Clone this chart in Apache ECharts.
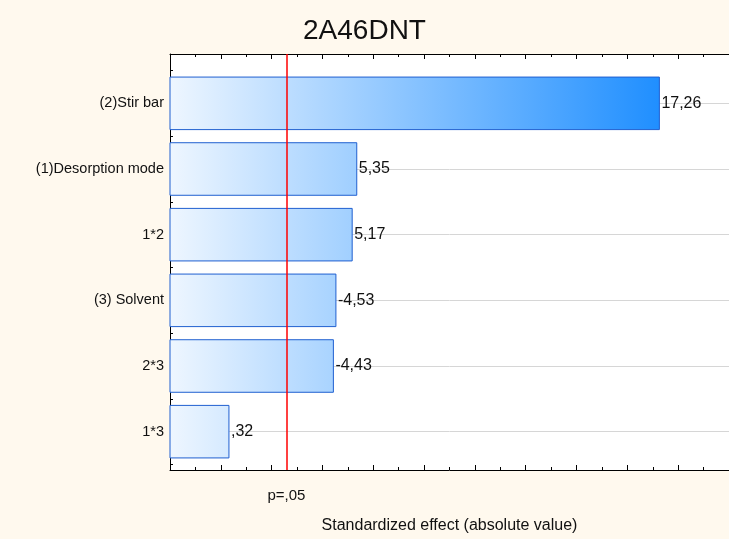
<!DOCTYPE html>
<html>
<head>
<meta charset="utf-8">
<script src="https://cdn.jsdelivr.net/npm/echarts@6/dist/echarts.min.js"></script>
<style>
  html, body { margin: 0; padding: 0; background: #FFF9EE; }
  #chart { width: 729px; height: 539px; }
</style>
</head>
<body>
<div id="chart"></div>
<script>
// effects, top to bottom
var categories = ['(2)Stir bar', '(1)Desorption mode', '1*2', '(3) Solvent', '2*3', '1*3'];
var effects = [17.26, 5.35, 5.17, -4.53, -4.43, 0.32];
var pCritical = 2.58;
var pLabel = 'p=,05';
var xMin = -2, xMax = 20;

var FONT = 'Liberation Sans, Arial, sans-serif';

// 5.35 -> "5,35", 0.32 -> ",32"
function fmt(v) {
  var s = v.toFixed(2).replace('.', ',');
  return s.replace(/^(-?)0,/, '$1,');
}

var myChart = echarts.init(document.getElementById('chart'));

// gradient runs over the whole plot width (global pixel coords)
var barGradient = new echarts.graphic.LinearGradient(170, 0, 663, 0, [
  {offset: 0, color: '#EEF6FF'},
  {offset: 1, color: '#1E8EFF'}
], true);

//bars start at the left edge of the axis, not at zero
function renderBar(params, api) {
  var val = api.value(0);
  var cat = api.value(1);
  var start = api.coord([xMin, cat]);
  var end = api.coord([val, cat]);
  var h = api.size([0, 1])[1] * 0.8;
  return {
    type: 'group',
    children: [
      {
        type: 'rect',
        shape: {x: start[0], y: start[1] - h / 2, width: end[0] - start[0], height: h},
        style: {fill: barGradient, stroke: '#1F5FD0', lineWidth: 1}
      },
      {
        type: 'text',
        x: end[0] + 2,
        y: end[1],
        style: {
          text: fmt(effects[params.dataIndex]),
          font: '16px ' + FONT,
          fill: '#111',
          align: 'left',
          verticalAlign: 'middle'
        }
      }
    ]
  };
}

var option = {
  animation: false,
  backgroundColor: '#FFF9EE',
  title: {
    text: '2A46DNT',
    left: 'center',
    top: 12,
    textStyle: {fontFamily: FONT, fontSize: 28, fontWeight: 'normal', color: '#111'}
  },
  grid: [
    {left: 170, right: -4, top: 54, bottom: 58, show: true, backgroundColor: '#fff', borderWidth: 0},
    {left: 170, right: -4, top: 70.5, bottom: 74.5}
  ],
  xAxis: [
    {
      gridIndex: 0, type: 'value', min: xMin, max: xMax, interval: 2, position: 'bottom',
      axisLine: {onZero: false, lineStyle: {color: '#000', width: 1}},
      axisTick: {inside: true, length: 5, lineStyle: {color: '#000'}},
      minorTick: {show: true, splitNumber: 2, length: 3, lineStyle: {color: '#000'}},
      axisLabel: {show: false},
      splitLine: {show: false},
      name: 'Standardized effect (absolute value)',
      nameLocation: 'middle',
      nameGap: 48,
      nameTextStyle: {fontFamily: FONT, fontSize: 16, color: '#111'}
    },
    {
      gridIndex: 0, type: 'value', min: xMin, max: xMax, interval: 2, position: 'top',
      axisLine: {onZero: false, lineStyle: {color: '#000', width: 1}},
      axisTick: {inside: true, length: 5, lineStyle: {color: '#000'}},
      minorTick: {show: true, splitNumber: 2, length: 3, lineStyle: {color: '#000'}},
      axisLabel: {show: false},
      splitLine: {show: false}
    },
    {gridIndex: 1, type: 'value', min: xMin, max: xMax, show: false}
  ],
  yAxis: [
    {
      gridIndex: 0, type: 'value', min: 0, max: 1, position: 'left',
      axisLine: {show: true, onZero: false, lineStyle: {color: '#000', width: 1}},
      axisTick: {show: false},
      axisLabel: {show: false},
      splitLine: {show: false}
    },
    {
      gridIndex: 1, type: 'category', data: categories, inverse: true, position: 'left',
      axisLine: {show: false, onZero: false},
      axisTick: {show: true, inside: true, length: 3, lineStyle: {color: '#000'}},
      axisLabel: {margin: 6, fontFamily: FONT, fontSize: 14.5, color: '#111'},
      splitLine: {show: false}
    },
    {
      gridIndex: 1, type: 'category', data: categories, inverse: true, position: 'left', offset: 0,
      axisLine: {show: false, onZero: false},
      axisTick: {show: true, inside: true, alignWithLabel: true, length: 3, lineStyle: {color: '#000'}},
      axisLabel: {show: false},
      splitLine: {show: false}
    }
  ],
  series: [
    {
      // gridlines at each effect
      type: 'line', xAxisIndex: 2, yAxisIndex: 1, data: [], z: 1,
      markLine: {
        silent: true, symbol: 'none', label: {show: false}, z: 1,
        lineStyle: {color: '#D6D6D6', type: 'solid', width: 1},
        data: categories.map(function (c, i) { return {yAxis: i}; })
      }
    },
    {
      type: 'custom', xAxisIndex: 2, yAxisIndex: 1, z: 3,
      renderItem: renderBar,
      encode: {x: 0, y: 1},
      data: effects.map(function (v, i) { return [Math.abs(v), i]; })
    },
    {
      // p = .05 line
      type: 'line', xAxisIndex: 0, yAxisIndex: 0, data: [], z: 10,
      markLine: {
        silent: true, symbol: 'none', z: 10,
        lineStyle: {color: '#FF0000', type: 'solid', width: 1.5},
        label: {show: true, position: 'start', distance: 18, formatter: pLabel,
          fontFamily: FONT, fontSize: 15, color: '#111'},
        data: [{xAxis: pCritical}]
      }
    }
  ]
};

myChart.setOption(option);
</script>
</body>
</html>
